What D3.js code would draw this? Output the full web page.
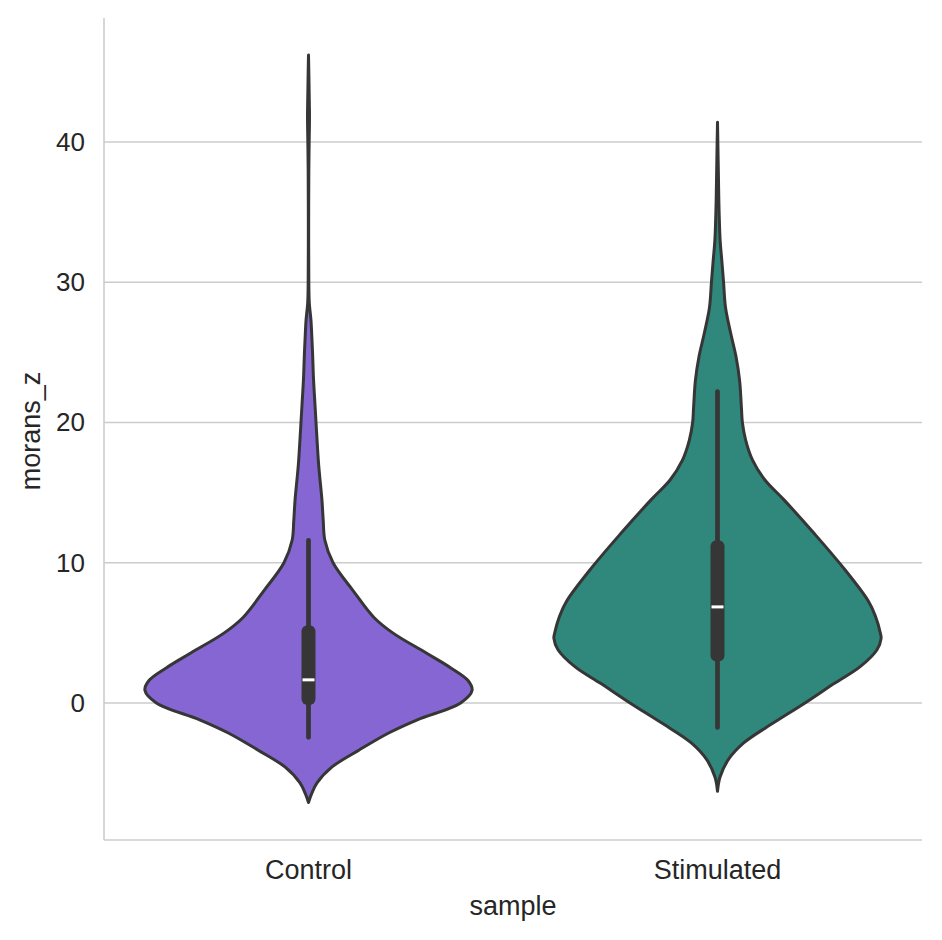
<!DOCTYPE html>
<html>
<head>
<meta charset="utf-8">
<script src="https://cdn.jsdelivr.net/npm/d3@7"></script>
<style>
  html, body { margin: 0; padding: 0; background: #ffffff; }
  svg text { font-family: "Liberation Sans", Arial, sans-serif; fill: #262626; }
</style>
</head>
<body>
<svg id="chart" width="942" height="940"></svg>
<script>
// categories on the x axis
const categories = ["Control", "Stimulated"];

// kernel density outline: value -> relative width (1 = widest)
const controlValues  = [-7.1, -6.5, -5.7, -4.56, -3.35, -2.14, -1.2, 0, 0.9, 1.6, 2.5, 3.56, 5.0, 6.1, 8.05, 10, 11.6, 13, 14.5, 17, 20, 21.6, 23, 24.9, 26.2, 27.3, 28.5, 30, 34, 38, 40, 41.8, 43.5, 45, 46.2];
const controlDensity = [0, 0.018, 0.052, 0.144, 0.31, 0.49, 0.665, 0.93, 1.0, 0.975, 0.87, 0.72, 0.515, 0.4, 0.27, 0.15, 0.1, 0.09, 0.082, 0.062, 0.046, 0.038, 0.031, 0.025, 0.02, 0.015, 0.005, 0.002, 0.001, 0.002, 0.004, 0.006, 0.004, 0.002, 0];

const stimValues  = [-6.3, -5.3, -4.06, -2.85, -1.4, 0, 1.4, 2.57, 3.8, 4.6, 5.0, 6.2, 7.3, 9.7, 12.1, 14.5, 15.9, 17.3, 18.75, 20, 21.1, 23, 24.7, 26.4, 28.2, 30, 31.6, 33, 35.9, 38.7, 41.4];
const stimDensity = [0, 0.015, 0.065, 0.16, 0.345, 0.535, 0.715, 0.87, 0.975, 1.0, 0.995, 0.965, 0.92, 0.765, 0.59, 0.405, 0.29, 0.215, 0.172, 0.152, 0.146, 0.135, 0.113, 0.08, 0.049, 0.037, 0.026, 0.016, 0.008, 0.004, 0];

// inner box: lower whisker, q1, median, q3, upper whisker
const controlStats = [-2.45, 0.35, 1.65, 5.05, 11.6];
const stimStats    = [-1.75, 3.45, 6.85, 11.1, 22.2];

const yTicks = [0, 10, 20, 30, 40];

const violins = [
  { name: categories[0], values: controlValues, density: controlDensity, stats: controlStats, fill: "#8566D2" },
  { name: categories[1], values: stimValues, density: stimDensity, stats: stimStats, fill: "#2F887B" }
];

const svg = d3.select("#chart");
const plotLeft = 104, plotRight = 922, plotTop = 18, plotBottom = 840;
const gridColor = "#cccccc";
const lineColor = "#363636";

const x = d3.scaleBand().domain(categories).range([plotLeft, plotRight]).paddingInner(0).paddingOuter(0);
const y = d3.scaleLinear().domain([-9.77, 48.84]).range([plotBottom, plotTop]);
const w = d3.scaleLinear().domain([0, 1]).range([0, x.bandwidth() * 0.4]);

// horizontal grid
svg.append("g")
  .selectAll("line")
  .data(yTicks)
  .join("line")
  .attr("x1", plotLeft)
  .attr("x2", plotRight)
  .attr("y1", d => y(d))
  .attr("y2", d => y(d))
  .attr("stroke", gridColor)
  .attr("stroke-width", 1.6);

// y axis
const yAxis = svg.append("g")
  .attr("transform", `translate(${plotLeft},0)`)
  .call(d3.axisLeft(y).tickValues(yTicks).tickSize(0).tickPadding(19));
yAxis.select(".domain").remove();
yAxis.selectAll("text")
  .style("font-size", "26px")
  .attr("fill", "#262626")
  .attr("font-family", null);

// x axis
const xAxis = svg.append("g")
  .attr("transform", `translate(0,${plotBottom})`)
  .call(d3.axisBottom(x).tickSize(0).tickPadding(20));
xAxis.select(".domain").remove();
xAxis.selectAll("text")
  .style("font-size", "27px")
  .attr("fill", "#262626")
  .attr("font-family", null);

// spines (left and bottom only)
svg.append("line")
  .attr("x1", plotLeft).attr("x2", plotLeft).attr("y1", plotTop).attr("y2", plotBottom)
  .attr("stroke", gridColor).attr("stroke-width", 1.6);
svg.append("line")
  .attr("x1", plotLeft).attr("x2", plotRight).attr("y1", plotBottom).attr("y2", plotBottom)
  .attr("stroke", gridColor).attr("stroke-width", 1.6);

// axis labels
svg.append("text")
  .attr("x", (plotLeft + plotRight) / 2)
  .attr("y", 915)
  .attr("text-anchor", "middle")
  .style("font-size", "27px")
  .text("sample");
svg.append("text")
  .attr("transform", `translate(40,431) rotate(-90)`)
  .attr("text-anchor", "middle")
  .style("font-size", "27px")
  .text("morans_z");

// violins
violins.forEach(v => {
  const cx = x(v.name) + x.bandwidth() / 2;
  const pts = v.values.map((val, i) => ({ val, d: v.density[i] }));

  const area = d3.area()
    .y(p => y(p.val))
    .x0(p => cx - w(p.d))
    .x1(p => cx + w(p.d))
    .curve(d3.curveCatmullRom.alpha(0.5));

  svg.append("path")
    .datum(pts)
    .attr("d", area)
    .attr("fill", v.fill)
    .attr("stroke", lineColor)
    .attr("stroke-width", 3)
    .attr("stroke-linejoin", "round");

  const [lo, q1, med, q3, hi] = v.stats;

  // whisker
  svg.append("line")
    .attr("x1", cx).attr("x2", cx)
    .attr("y1", y(lo)).attr("y2", y(hi))
    .attr("stroke", lineColor)
    .attr("stroke-width", 4.7)
    .attr("stroke-linecap", "round");

  // box
  svg.append("rect")
    .attr("x", cx - 7)
    .attr("width", 14)
    .attr("y", y(q3) - 7)
    .attr("height", y(q1) - y(q3) + 14)
    .attr("rx", 6)
    .attr("fill", lineColor);

  // median
  svg.append("line")
    .attr("x1", cx - 6).attr("x2", cx + 6)
    .attr("y1", y(med)).attr("y2", y(med))
    .attr("stroke", "#ffffff")
    .attr("stroke-width", 3);
});
</script>
</body>
</html>
